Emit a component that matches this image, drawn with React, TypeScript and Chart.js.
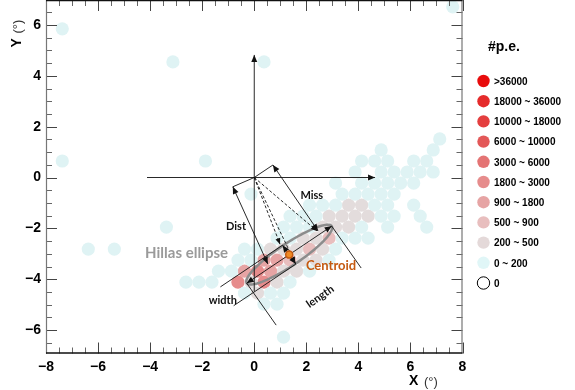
import React, { useEffect, useRef } from "react";
import { Chart, registerables } from "chart.js";

Chart.register(...registerables);

// ---------- axes ----------
const xRange = [-8, 8];
const yRange = [-6.92, 6.98];
const xTicks = [-8, -6, -4, -2, 0, 2, 4, 6, 8];
const yTicks = [-6, -4, -2, 0, 2, 4, 6];

// ---------- legend ----------
const legendLabels = [">36000", "18000 ~ 36000", "10000 ~ 18000", "6000 ~ 10000", "3000 ~ 6000", "1800 ~ 3000", "900 ~ 1800", "500 ~ 900", "200 ~ 500", "0 ~ 200", "0"];
const legendColors = ["#e80c0c", "#e52b2b", "#e43f3f", "#e35858", "#e47474", "#e68c8c", "#e6a4a4", "#e8bebe", "#e4d9d9", "#e0f6f7", "#ffffff"];

// ---------- cells (x, y in degrees) per #p.e. class ----------
const cells0to200: [number, number][] = [
  [7.625, 6.712], [-7.375, 5.846], [-3.125, 4.547], [0.375, 4.547], [7.125, 1.516], [4.875, 1.083], [6.875, 1.083],
  [-7.375, 0.65], [-1.875, 0.65], [4.125, 0.65], [4.625, 0.65], [5.125, 0.65], [6.125, 0.65], [6.625, 0.65],
  [3.875, 0.217], [4.875, 0.217], [5.375, 0.217], [5.875, 0.217], [6.375, 0.217], [6.875, 0.217],
  [3.125, -0.217], [4.125, -0.217], [4.625, -0.217], [5.125, -0.217], [5.625, -0.217], [6.125, -0.217],
  [-0.125, -0.65], [3.375, -0.65], [3.875, -0.65], [4.375, -0.65], [4.875, -0.65], [5.375, -0.65],
  [2.125, -1.083], [2.625, -1.083], [3.125, -1.083], [4.625, -1.083], [5.125, -1.083], [6.125, -1.083],
  [1.375, -1.516], [1.875, -1.516], [2.375, -1.516], [4.875, -1.516], [5.375, -1.516], [6.375, -1.516],
  [-3.375, -1.949], [1.125, -1.949], [1.625, -1.949], [2.125, -1.949], [4.125, -1.949], [5.125, -1.949], [6.625, -1.949],
  [0.875, -2.382], [1.375, -2.382], [3.375, -2.382], [3.875, -2.382], [4.375, -2.382],
  [-6.375, -2.815], [-5.375, -2.815], [-0.375, -2.815], [0.125, -2.815], [3.125, -2.815],
  [-0.625, -3.248], [-0.125, -3.248], [2.875, -3.248],
  [-1.375, -3.681], [-0.875, -3.681], [2.125, -3.681],
  [-2.625, -4.114], [-2.125, -4.114], [-1.625, -4.114], [1.375, -4.114],
  [-0.375, -4.547], [0.625, -4.547], [1.125, -4.547],
  [0.375, -4.98], [0.875, -4.98],
  [1.125, -6.279],
];
const cells200to500: [number, number][] = [
  [3.625, -1.083], [4.125, -1.083],
  [2.875, -1.516], [3.375, -1.516], [3.875, -1.516], [4.375, -1.516],
  [2.625, -1.949], [3.125, -1.949], [3.625, -1.949],
  [1.875, -2.382], [2.375, -2.382],
  [0.625, -2.815], [1.125, -2.815], [1.625, -2.815], [2.625, -2.815],
  [1.875, -3.248], [2.375, -3.248],
  [1.125, -3.681], [1.625, -3.681],
  [-0.125, -4.114], [0.875, -4.114],
  [0.125, -4.547],
];
const cells500to900: [number, number][] = [[2.875, -2.382], [2.125, -2.815], [1.375, -3.248]];
const cells900to1800: [number, number][] = [[0.375, -3.248], [0.875, -3.248], [0.625, -3.681], [-0.375, -3.681]];
const cells1800to3000: [number, number][] = [[0.125, -3.681], [-0.625, -4.114], [0.375, -4.114]];

// ---------- Hillas annotation (degrees) ----------
const ellipseCenter = [1.343, -3.032];
const ellipseAxes = [1.98, 0.43]; // semi-length, semi-width
const ellipseAngle = 34.5; // degrees
// [x1, y1, x2, y2, headAtStart, headAtEnd]
const solidLines: number[][] = [
  [-4.12, 0, 4.64, 0, 0, 1],
  [0, -4.48, 0, 4.82, 0, 1],
  [0, 0, 0.717, 0.492, 0, 0],
  [0.717, 0.492, 2.45, -2.1, 1, 1],
  [0, 0, -0.823, -0.365, 0, 0],
  [-0.823, -0.365, 0.52, -3.397, 1, 1],
  [-0.29, -4.156, 2.975, -1.911, 1, 1],
  [1.088, -2.661, 1.598, -3.403, 1, 1],
  [1.088, -2.661, -1.3, -4.3, 0, 0],
  [1.598, -3.403, -0.79, -5.04, 0, 0],
  [2.975, -1.911, 4.107, -3.559, 0, 0],
  [-0.29, -4.156, 0.842, -5.804, 0, 0],
];
const dashedLines: number[][] = [
  [0, 0, 0.99, -2.62, 0, 1],
  [0, 0, 1.57, -3.36, 0, 1],
  [0, 0, 2.41, -2.1, 0, 1],
];
// [text, x, y, color, font, rotationDeg]
const labels: [string, number, number, string, string, number][] = [
  ["Hillas ellipse", -2.6, -2.96, "#9a9a9a", "bold 15px Lato", 0],
  ["Centroid", 2.95, -3.475, "#c55a11", "bold 13px Lato", 0],
  ["Dist", -0.7, -1.91, "#111", "bold 11px Lato", 0],
  ["Miss", 2.21, -0.72, "#111", "bold 11px Lato", 0],
  ["width", -1.21, -4.85, "#111", "bold 11px Lato", 0],
  ["length", 2.53, -4.68, "#111", "bold 11px Lato", -34.5],
];

// plot box in canvas pixels (layout only)
const BOX = { left: 46, right: 462.5, top: 0, bottom: 353.5 };

const fmt = (v: number) => (v < 0 ? "\u2212" + Math.abs(v) : String(v));

function head(ctx: CanvasRenderingContext2D, tx: number, ty: number, fx: number, fy: number, len = 7, hw = 3) {
  const a = Math.atan2(ty - fy, tx - fx);
  ctx.beginPath();
  ctx.moveTo(tx, ty);
  ctx.lineTo(tx - len * Math.cos(a) + hw * Math.sin(a), ty - len * Math.sin(a) - hw * Math.cos(a));
  ctx.lineTo(tx - len * Math.cos(a) - hw * Math.sin(a), ty - len * Math.sin(a) + hw * Math.cos(a));
  ctx.closePath();
  ctx.fill();
}

const hillasPlugin = {
  id: "hillas",
  afterLayout(chart: any) {
    const xs = chart.scales.x;
    const ys = chart.scales.y;
    const ca = chart.chartArea;
    ca.left = BOX.left; ca.right = BOX.right; ca.top = BOX.top; ca.bottom = BOX.bottom;
    ca.width = BOX.right - BOX.left; ca.height = BOX.bottom - BOX.top;
    xs.left = BOX.left; xs.right = BOX.right; xs.width = BOX.right - BOX.left;
    xs.top = BOX.bottom; xs.bottom = chart.height; xs.height = chart.height - BOX.bottom;
    ys.top = BOX.top; ys.bottom = BOX.bottom; ys.height = BOX.bottom - BOX.top;
    ys.left = 0; ys.right = BOX.left; ys.width = BOX.left;
    xs.configure();
    ys.configure();
  },
  afterDatasetsDraw(chart: any) {
    const ctx: CanvasRenderingContext2D = chart.ctx;
    const xs = chart.scales.x;
    const ys = chart.scales.y;
    const P = (x: number, y: number) => [xs.getPixelForValue(x), ys.getPixelForValue(y)];
    ctx.save();
    const th = (ellipseAngle * Math.PI) / 180;
    const u = [Math.cos(th), Math.sin(th)];
    const v = [-Math.sin(th), Math.cos(th)];
    ctx.beginPath();
    for (let i = 0; i <= 120; i++) {
      const t = (i / 120) * Math.PI * 2;
      const dx = ellipseAxes[0] * Math.cos(t);
      const dy = ellipseAxes[1] * Math.sin(t);
      const p = P(ellipseCenter[0] + dx * u[0] + dy * v[0], ellipseCenter[1] + dx * u[1] + dy * v[1]);
      if (i === 0) ctx.moveTo(p[0], p[1]);
      else ctx.lineTo(p[0], p[1]);
    }
    ctx.closePath();
    ctx.strokeStyle = "#8c8c8c";
    ctx.lineWidth = 2.5;
    ctx.stroke();

    const drawLines = (list: number[][], dash: number[], hl: number, hw: number) => {
      for (const l of list) {
        const a = P(l[0], l[1]);
        const b = P(l[2], l[3]);
        ctx.setLineDash(dash);
        ctx.strokeStyle = "#111";
        ctx.lineWidth = 0.9;
        ctx.beginPath();
        ctx.moveTo(a[0], a[1]);
        ctx.lineTo(b[0], b[1]);
        ctx.stroke();
        ctx.setLineDash([]);
        ctx.fillStyle = "#111";
        if (l[4]) head(ctx, a[0], a[1], b[0], b[1], hl, hw);
        if (l[5]) head(ctx, b[0], b[1], a[0], a[1], hl, hw);
      }
    };
    drawLines(solidLines, [], 7, 3);
    drawLines(dashedLines, [3, 2], 6, 2.5);

    const c = P(ellipseCenter[0], ellipseCenter[1]);
    ctx.beginPath();
    ctx.arc(c[0], c[1], 3.5, 0, Math.PI * 2);
    ctx.fillStyle = "#f08a24";
    ctx.fill();
    ctx.strokeStyle = "#c55a11";
    ctx.lineWidth = 1.5;
    ctx.stroke();

    for (const [t, x, y, col, font, rot] of labels) {
      const p = P(x, y);
      ctx.save();
      ctx.translate(p[0], p[1]);
      ctx.rotate((rot * Math.PI) / 180);
      ctx.font = font;
      ctx.fillStyle = col;
      ctx.textAlign = "center";
      ctx.textBaseline = "middle";
      ctx.fillText(t, 0, 0);
      ctx.restore();
    }
    ctx.restore();
  },
  afterDraw(chart: any) {
    const ctx: CanvasRenderingContext2D = chart.ctx;
    const xs = chart.scales.x;
    const ys = chart.scales.y;
    const { left, right, top, bottom } = chart.chartArea;
    ctx.save();
    ctx.lineWidth = 1;
    for (let v = -8; v <= 8.001; v += 0.5) {
      const px = Math.round(xs.getPixelForValue(v)) + 0.5;
      const major = Math.abs(v / 2 - Math.round(v / 2)) < 1e-6;
      const len = major ? 11 : 6;
      ctx.strokeStyle = major ? "#444" : "#666";
      ctx.beginPath();
      ctx.moveTo(px, bottom);
      ctx.lineTo(px, bottom - len);
      ctx.moveTo(px, top);
      ctx.lineTo(px, top + len);
      ctx.stroke();
    }
    for (let v = -6.5; v <= 6.501; v += 0.5) {
      const py = Math.round(ys.getPixelForValue(v)) + 0.5;
      const major = Math.abs(v / 2 - Math.round(v / 2)) < 1e-6;
      const len = major ? 11 : 6;
      ctx.strokeStyle = major ? "#444" : "#666";
      ctx.beginPath();
      ctx.moveTo(left, py);
      ctx.lineTo(left + len, py);
      ctx.moveTo(right, py);
      ctx.lineTo(right - len, py);
      ctx.stroke();
    }
    ctx.strokeStyle = "#777";
    ctx.lineWidth = 1.2;
    ctx.beginPath();
    ctx.moveTo(left + 0.5, top);
    ctx.lineTo(left + 0.5, bottom);
    ctx.moveTo(right - 0.5, top);
    ctx.lineTo(right - 0.5, bottom);
    ctx.stroke();
    ctx.strokeStyle = "#111";
    ctx.lineWidth = 1.5;
    ctx.beginPath();
    ctx.moveTo(left, bottom - 0.5);
    ctx.lineTo(right, bottom - 0.5);
    ctx.moveTo(left, top + 0.5);
    ctx.lineTo(right, top + 0.5);
    ctx.stroke();

    ctx.fillStyle = "#000";
    ctx.textBaseline = "alphabetic";
    ctx.textAlign = "left";
    ctx.font = "bold 14px 'Liberation Sans', Arial";
    ctx.fillText("X", 409, 385);
    ctx.font = "13px 'Liberation Sans', Arial";
    ctx.fillStyle = "#333";
    ctx.fillText("(\u00b0)", 424, 386);
    ctx.save();
    ctx.translate(21, 47.5);
    ctx.rotate(-Math.PI / 2);
    ctx.font = "bold 14px 'Liberation Sans', Arial";
    ctx.fillStyle = "#000";
    ctx.fillText("Y", 0, 0);
    ctx.font = "13px 'Liberation Sans', Arial";
    ctx.fillStyle = "#333";
    ctx.fillText("(\u00b0)", 14, 1);
    ctx.restore();

    ctx.fillStyle = "#000";
    ctx.font = "bold 14px 'Liberation Sans', Arial";
    ctx.textBaseline = "middle";
    ctx.fillText("#p.e.", 488, 47);
    ctx.font = "bold 10px 'Liberation Sans', Arial";
    legendLabels.forEach((lab, i) => {
      const y = 81 + i * 20.2;
      ctx.beginPath();
      ctx.arc(483.5, y, 6.2, 0, Math.PI * 2);
      ctx.fillStyle = legendColors[i];
      ctx.fill();
      if (lab === "0") {
        ctx.strokeStyle = "#000";
        ctx.lineWidth = 1;
        ctx.stroke();
      }
      ctx.fillStyle = "#000";
      ctx.fillText(lab, 494, y + 1);
    });
    ctx.restore();
  },
};

const zeroPad = (s: any) => {
  s.paddingTop = 0;
  s.paddingBottom = 0;
  s.paddingLeft = 0;
  s.paddingRight = 0;
};

export default function App() {
  const ref = useRef<HTMLCanvasElement | null>(null);
  useEffect(() => {
    if (!ref.current) return;
    const mk = (pts: [number, number][], color: string) => ({
      data: pts.map(([x, y]) => ({ x, y })),
      backgroundColor: color,
      borderWidth: 0,
      pointRadius: 6.6,
      pointHoverRadius: 6.6,
      clip: false as any,
    });
    const chart = new Chart(ref.current, {
      type: "scatter",
      data: {
        datasets: [
          mk(cells0to200, "#dff3f4"),
          mk(cells200to500, "#e3dcdc"),
          mk(cells500to900, legendColors[7]),
          mk(cells900to1800, legendColors[6]),
          mk(cells1800to3000, legendColors[5]),
        ],
      },
      options: {
        animation: false,
        responsive: false,
        maintainAspectRatio: false,
        events: [],
        layout: { padding: { left: 0, right: 112.5, top: 0, bottom: 0 } },
        plugins: { legend: { display: false }, tooltip: { enabled: false } },
        scales: {
          x: {
            type: "linear",
            min: xRange[0],
            max: xRange[1],
            afterBuildTicks: (s: any) => {
              s.ticks = xTicks.map((value) => ({ value }));
            },
            afterFit: (s: any) => {
              s.height = 36.5;
              zeroPad(s);
            },
            ticks: {
              autoSkip: false,
              maxRotation: 0,
              padding: 5,
              color: "#000",
              font: { family: "'Liberation Sans', Arial", size: 14, weight: "bold" },
              callback: (v: any) => fmt(Number(v)),
            },
            grid: { display: false, drawTicks: false },
            border: { display: false },
          },
          y: {
            type: "linear",
            min: yRange[0],
            max: yRange[1],
            afterBuildTicks: (s: any) => {
              s.ticks = yTicks.map((value) => ({ value }));
            },
            afterFit: (s: any) => {
              s.width = 46;
              zeroPad(s);
            },
            ticks: {
              autoSkip: false,
              padding: 5,
              color: "#000",
              font: { family: "'Liberation Sans', Arial", size: 14, weight: "bold" },
              callback: (v: any) => fmt(Number(v)),
            },
            grid: { display: false, drawTicks: false },
            border: { display: false },
          },
        },
      } as any,
      plugins: [hillasPlugin],
    });
    return () => chart.destroy();
  }, []);
  return (
    <div style={{ position: "fixed", left: 0, top: 0, width: 575, height: 390, background: "#fff" }}>
      <canvas ref={ref} width={575} height={390} style={{ display: "block" }} />
    </div>
  );
}
